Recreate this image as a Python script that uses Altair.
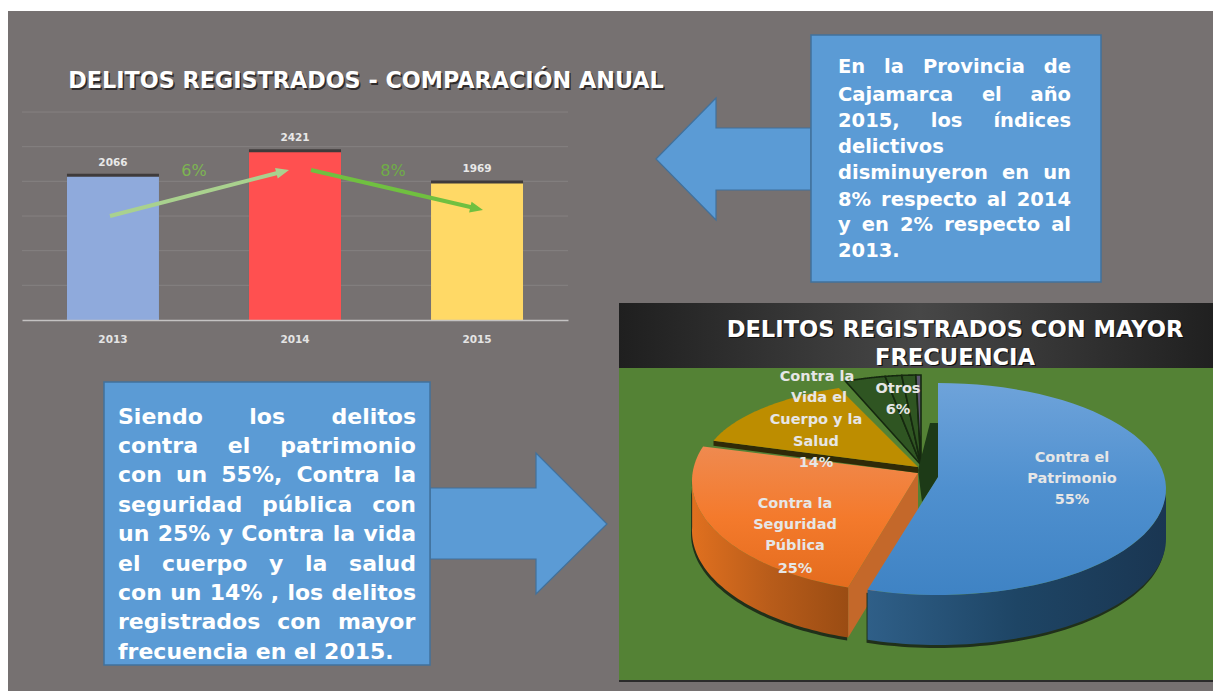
import math
import altair as alt
import pandas as pd

# ---- values ----
YEARS = ["2013", "2014", "2015"]
CRIMES = [2066, 2421, 1969]
BAR_COLORS = ["#8faadc", "#ff5050", "#ffd966"]
GRID_VALUES = [500, 1000, 1500, 2000, 2500, 3000]
PIE_SHARES = [55, 25, 14]
OTROS_SHARES = [3.2, 1.3, 1.1, 0.4]
OTROS_COLORS = ["#2f5522", "#2f5522", "#2f5522", "#5d5670"]

TITLE_1 = "DELITOS REGISTRADOS - COMPARACIÓN ANUAL"
TITLE_2 = ["DELITOS REGISTRADOS CON MAYOR", "FRECUENCIA"]
BOX_1 = ["En la Provincia de", "Cajamarca el año", "2015, los índices", "delictivos",
         "disminuyeron en un", "8% respecto al 2014", "y en 2% respecto al", "2013."]
BOX_1_LEFT = {3, 7}
BOX_2 = ["Siendo los delitos", "contra el patrimonio", "con un 55%, Contra la",
         "seguridad pública con", "un 25% y Contra la vida", "el cuerpo y la salud",
         "con un 14% , los delitos", "registrados con mayor", "frecuencia en el 2015."]
BOX_2_LEFT = {8}

GRAY = "#767171"
BLUE = "#5b9bd5"
BLUE_EDGE = "#41719c"
GREEN = "#548235"
FONT = "DejaVu Sans"

# approximate DejaVu Sans Bold advance widths, used to justify the text boxes
W = dict(a=.675, b=.716, c=.593, d=.716, e=.678, f=.435, g=.716, h=.712, i=.343, j=.343, k=.665,
         l=.343, m=1.042, n=.712, o=.687, p=.716, q=.716, r=.493, s=.595, t=.478, u=.712, v=.652,
         w=.924, x=.645, y=.652, z=.582, C=.734, E=.683, P=.733, S=.72)
W.update({"%": 1.002, ",": .38, ".": .38, "ñ": .712, "í": .343, "ú": .712})
for _d in "0123456789":
    W[_d] = .696


def P(x, y):
    return [x - 8, y - 8]


def poly(points):
    ring = [P(*p) for p in points]
    ring.append(ring[0])
    return alt.Data(values=[{"type": "Feature", "properties": {},
                             "geometry": {"type": "Polygon", "coordinates": [ring]}}])


def shape(points, fill, stroke=None, width=1.0, opacity=None):
    kw = {"fill": fill}
    if stroke:
        kw["stroke"] = stroke
        kw["strokeWidth"] = width
    else:
        kw["strokeWidth"] = 0
    if opacity is not None:
        kw["opacity"] = opacity
    return (alt.Chart(poly(points)).mark_geoshape(**kw)
            .project(type="identity", scale=1, translate=[0, 0]))


def grad(stops, horizontal=False):
    n = len(stops) - 1
    return alt.Gradient(gradient="linear", x1=0, y1=0, x2=1 if horizontal else 0, y2=0 if horizontal else 1,
                        stops=[alt.GradientStop(color=c, offset=i / n) for i, c in enumerate(stops)])


def rect(x0, y0, x1, y1):
    return [(x0, y0), (x1, y0), (x1, y1), (x0, y1)]


def arc(cx, cy, a, b, d0, d1, dy=0, n=60):
    out = []
    for i in range(n + 1):
        t = math.radians(d0 + (d1 - d0) * i / n)
        out.append((cx + a * math.sin(t), cy - b * math.cos(t) + dy))
    return out


def wall(cx, cy, a, b, d0, d1, depth):
    return arc(cx, cy, a, b, d0, d1) + arc(cx, cy, a, b, d1, d0, dy=depth)


def text(rows, size, color="#ffffff", bold=True, align="center", dx=0, dy=0):
    df = pd.DataFrame(rows, columns=["t", "x", "y"])
    df["x"] -= 8
    df["y"] -= 8
    return alt.Chart(df).mark_text(font=FONT, fontSize=size, fontWeight="bold" if bold else "normal",
                                   color=color, align=align, baseline="middle", dx=dx, dy=dy).encode(
        x=alt.X("x:Q", scale=None, axis=None),
        y=alt.Y("y:Q", scale=None, axis=None),
        text="t:N")


def justified(lines, left_only, x0, x1, ys, size):
    rows = []
    for i, line in enumerate(lines):
        words = line.split(" ")
        widths = [sum(W.get(c, .68) for c in w) * size for w in words]
        gap = .348 * size if i in left_only else (x1 - x0 - sum(widths)) / (len(words) - 1)
        x = x0
        for w, ww in zip(words, widths):
            rows.append((w, x, ys[i]))
            x += ww + gap
    return text(rows, size, align="left")


def arrow_poly(x0, y0, x1, y1, w=2.0, hl=13, hw=5.5):
    L = math.hypot(x1 - x0, y1 - y0)
    ux, uy = (x1 - x0) / L, (y1 - y0) / L
    nx, ny = -uy, ux
    bx, by = x1 - ux * hl, y1 - uy * hl
    return [(x0 + nx * w, y0 + ny * w), (bx + nx * w, by + ny * w), (bx + nx * hw, by + ny * hw), (x1, y1),
            (bx - nx * hw, by - ny * hw), (bx - nx * w, by - ny * w), (x0 - nx * w, y0 - ny * w)]


layers = [shape(rect(8, 11, 1221, 691), GRAY)]

# ---- bar chart ----
bars = pd.DataFrame({"year": YEARS, "n": CRIMES, "c": BAR_COLORS})
x_enc = alt.X("year:N", sort=YEARS,
              scale=alt.Scale(domain=YEARS, range=[14, 560], paddingInner=0.4945, paddingOuter=0.247),
              axis=alt.Axis(title=None, orient="bottom", offset=-371, ticks=False, labelAngle=0, zindex=1,
                            labelFont=FONT, labelFontSize=10.5, labelFontWeight="bold", labelColor="#e4e4e4",
                            labelPadding=14, domainColor="#c4c2c2", domainWidth=1.5, grid=False))
y_enc = alt.Y("n:Q", scale=alt.Scale(domain=[0, 3000], range=[312, 104]), axis=None)
grid = alt.Chart(pd.DataFrame({"n": GRID_VALUES})).mark_rule(color="#858181", strokeWidth=1).encode(
    y=y_enc, x=alt.value(14), x2=alt.value(560))
bar_shadow = alt.Chart(bars).mark_bar(color="#3f3b3b", yOffset=-3).encode(x=x_enc, y=y_enc)
bar_main = alt.Chart(bars).mark_bar().encode(x=x_enc, y=y_enc, color=alt.Color("c:N", scale=None))
bar_text = alt.Chart(bars).mark_text(font=FONT, fontSize=10.5, fontWeight="bold", color="#e8e8e8", dy=-14,
                                     baseline="middle").encode(x=x_enc, y=y_enc, text="n:Q")

layers.append(grid)
layers.append(alt.layer(bar_shadow, bar_main, bar_text))
layers += [
    shape(arrow_poly(110, 216, 289, 170), "#a9d18e"),
    shape(arrow_poly(311, 170, 483, 210), "#70c040"),
    text([("6%", 194, 171)], 16, color="#7db551", bold=False),
    text([("8%", 393, 171)], 16, color="#70ad47", bold=False),
    text([(TITLE_1, 366, 81)], 22.3, color="#2f2b2b", dx=1.5, dy=1.5),
    text([(TITLE_1, 366, 81)], 22.3, color="#ffffff"),
]

# ---- pie panel ----
layers += [
    shape(rect(619, 303, 1221, 368), grad(["#1f1f1f", "#474747", "#1f1f1f"], horizontal=True)),
    shape(rect(619, 368, 1221, 680), GREEN),
    shape(rect(619, 680, 1221, 682), "#2b2b2b"),
]

blue_end = PIE_SHARES[0] * 3.6
orange_end = blue_end + PIE_SHARES[1] * 3.6
gold_end = orange_end + PIE_SHARES[2] * 3.6

OR = dict(cx=918, cy=481, a=226, b=112)
BL = dict(cx=938, cy=489, a=228, b=106)
GO = dict(cx=918, cy=467, a=215, b=85)
GR = dict(cx=921, cy=465, a=205, b=90)
DEPTH = 50

# orange wedge
o_tip = arc(**OR, d0=blue_end, d1=blue_end, n=1)[0]
layers += [
    shape([(x - 1, y + 3) for x, y in wall(**OR, d0=blue_end, d1=272, depth=DEPTH)], "#20301a"),
    shape(wall(**OR, d0=blue_end, d1=272, depth=DEPTH), grad(["#e0701f", "#b85c1a", "#9a4c13"], horizontal=True)),
    shape([(918, 473), o_tip, (o_tip[0], o_tip[1] + DEPTH), (918, 473 + DEPTH)], "#c4682a"),
    shape([(918, 473)] + arc(**OR, d0=blue_end, d1=orange_end), grad(["#ef8a50", "#f47a2c", "#e46c1e"])),
]
# gold wedge and its dark under-edge
g_left = arc(**GO, d0=orange_end, d1=orange_end, n=1)[0]
layers += [
    shape([g_left, (918, 467), (918, 473), (g_left[0], g_left[1] + 5)], "#2f2a08"),
    shape([(918, 467)] + arc(**GO, d0=orange_end, d1=gold_end), "#bd8d00"),
]
# small wedges grouped as "Otros"
start = gold_end
for share, col in zip(OTROS_SHARES, OTROS_COLORS):
    end = start + share * 3.6
    layers.append(shape([(921, 465)] + arc(**GR, d0=start, d1=end), col, stroke="#15280f", width=1.6))
    start = end
layers.append(shape([(930, 423), (938, 423), (938, 478), (922, 502), (918, 470)], "#1d3a17"))

# blue wedge
b_tip = arc(**BL, d0=blue_end, d1=blue_end, n=1)[0]
layers += [
    shape([(x - 1, y + 3) for x, y in wall(**BL, d0=90, d1=blue_end, depth=DEPTH)], "#20301a"),
    shape(wall(**BL, d0=90, d1=blue_end, depth=DEPTH), grad(["#2f5f88", "#1e4565", "#1a3652"], horizontal=True)),
    shape([(938, 477)] + arc(**BL, d0=0, d1=blue_end), grad(["#6ea3da", "#4f90cf", "#3f83c4"])),
]

layers += [
    text([(TITLE_2[0], 955, 330), (TITLE_2[1], 955, 358)], 22.6, color="#101010", dx=1.2, dy=1.2),
    text([(TITLE_2[0], 955, 330), (TITLE_2[1], 955, 358)], 22.6),
    text([("Contra el", 1072, 458), ("Patrimonio", 1072, 479), ("55%", 1072, 500),
          ("Contra la", 795, 504), ("Seguridad", 795, 525), ("Pública", 795, 546), ("25%", 795, 569),
          ("Contra la", 817, 377), ("Vida el", 819, 398), ("Cuerpo y la", 816, 420), ("Salud", 816, 442),
          ("14%", 816, 463), ("Otros", 898, 389), ("6%", 898, 410)], 14.5, color="#e6e6e6"),
]

# ---- call-out arrows and text boxes ----
layers += [
    shape([(656, 159), (716, 98), (716, 128), (811, 128), (811, 190), (716, 190), (716, 220)], BLUE, BLUE_EDGE, 1.2),
    shape(rect(811, 35, 1101, 282), BLUE, BLUE_EDGE, 1.5),
    justified(BOX_1, BOX_1_LEFT, 838, 1071, [67, 95, 121, 147, 173, 200, 225, 251], 19.5),
    shape([(607, 524), (536, 453), (536, 488), (430, 488), (430, 559), (536, 559), (536, 594)], BLUE, BLUE_EDGE, 1.2),
    shape(rect(104, 382, 430, 665), BLUE, BLUE_EDGE, 1.5),
    justified(BOX_2, BOX_2_LEFT, 118, 416, [417, 446, 475, 505, 534, 564, 593, 622, 652], 22),
]

chart = (alt.layer(*layers)
         .resolve_scale(x="independent", y="independent", color="independent")
         .properties(width=1205, height=683, padding=0, background="#ffffff",
                     autosize=alt.AutoSizeParams(type="none"))
         .configure_view(stroke=None))

chart.save("out.html", embed_options={"renderer": "svg", "actions": False})
